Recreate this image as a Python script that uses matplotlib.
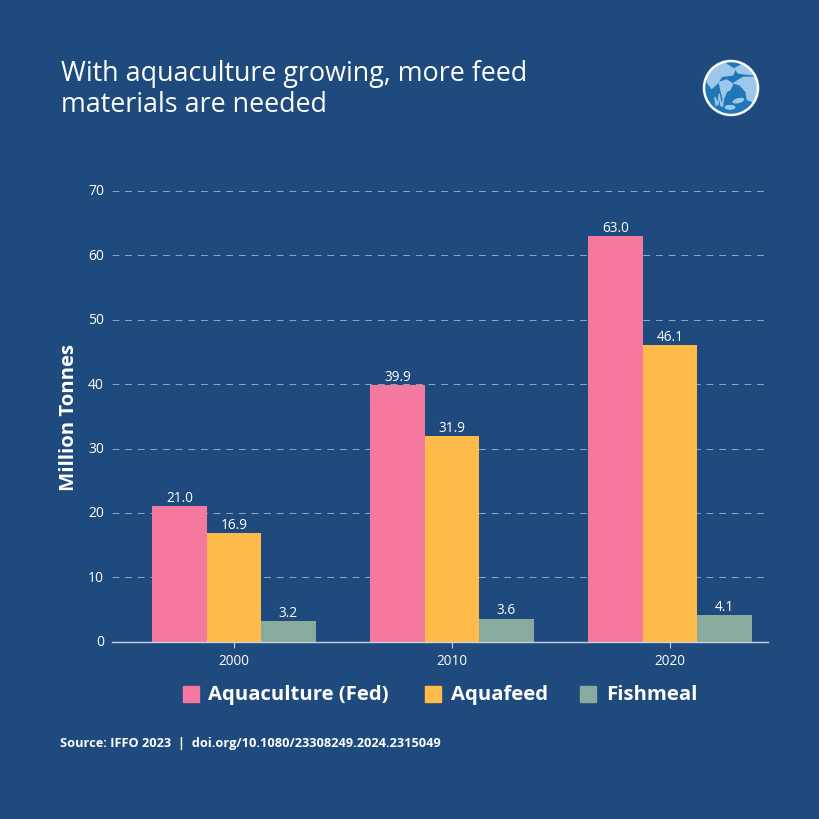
import matplotlib
matplotlib.use("Agg")
import matplotlib.pyplot as plt
from matplotlib.patches import Circle, Polygon, Ellipse, Rectangle
from matplotlib.transforms import ScaledTranslation
import numpy as np

years = ["2000", "2010", "2020"]
aquaculture = [21.0, 39.9, 63.0]
aquafeed = [16.9, 31.9, 46.1]
fishmeal = [3.2, 3.6, 4.1]
series_names = ["Aquaculture (Fed)", "Aquafeed", "Fishmeal"]
yticks = [0, 10, 20, 30, 40, 50, 60, 70]
title = "With aquaculture growing, more feed\nmaterials are needed"
source = "Source: IFFO 2023  |  doi.org/10.1080/23308249.2024.2315049"

BG = "#1e4a7e"
COLORS = ["#f5789f", "#ffbb49", "#88ab9d"]
plt.rcParams["font.family"] = ["Open Sans", "DejaVu Sans"]

W = H = 820
fig = plt.figure(figsize=(8.2, 8.2), dpi=100, facecolor=BG)
ax = fig.add_axes([112.4 / W, 1 - 642.8 / H, (768 - 112) / W, (642 - 191) / H], facecolor=BG)

x = np.arange(len(years))
bw = 0.25
for off, vals, col in zip([-bw, 0, bw], [aquaculture, aquafeed, fishmeal], COLORS):
    bars = ax.bar(x + off, vals, bw, color=col, zorder=3)
    for b, v in zip(bars, vals):
        ax.annotate(f"{v:.1f}", (b.get_x() + b.get_width() / 2, v), xytext=(0, 0.8),
                    textcoords="offset points", ha="center", va="bottom",
                    color="white", fontsize=9.8, zorder=4)

ax.set_xlim(-0.5575, 2.452)
ax.set_ylim(0, 70)
ax.set_xticks(x, years)
ax.set_yticks(yticks)
ax.grid(axis="y", color="#8ea6c2", lw=0.7, dashes=(7, 6), zorder=1)
ax.set_axisbelow(True)
for s in ["top", "right", "left"]:
    ax.spines[s].set_visible(False)
ax.spines["bottom"].set_color("#c9d3de")
ax.spines["bottom"].set_linewidth(1.0)
ax.spines["bottom"].set_zorder(5)
ax.tick_params(axis="x", colors="white", labelsize=9.8, length=4.5, width=0.8, color="#c9d3de", pad=3.8)
ax.tick_params(axis="y", colors="white", labelsize=10, length=0, pad=6)
shift = ScaledTranslation(0, 1.5 / 72, fig.dpi_scale_trans)
for lab in ax.get_yticklabels():
    lab.set_transform(lab.get_transform() + shift)
ax.set_ylabel("Million Tonnes", color="white", fontsize=14.7, fontweight="bold", va="center")
ax.yaxis.set_label_coords((69 - 112) / (768 - 112), 0.5)

lines = title.split("\n")
fig.text(61 / W, 1 - 74.5 / H, lines[0], color="white", fontsize=19.35, va="center", ha="left")
fig.text(61 / W, 1 - 105.5 / H, lines[1], color="white", fontsize=19.35, va="center", ha="left")
fig.text(60 / W, 1 - 744 / H, source, color="white", fontsize=9.2, fontweight="bold", va="center", ha="left")

overlay = fig.add_axes([0, 0, 1, 1], facecolor="none")
overlay.set_xlim(0, W)
overlay.set_ylim(H, 0)
overlay.axis("off")
for sx, tx, name, col in zip([183, 425, 580], [208, 451, 606], series_names, COLORS):
    overlay.add_patch(Rectangle((sx, 686.5), 16, 16, color=col))
    overlay.text(tx, 695, name, color="white", fontsize=14.55, fontweight="bold", va="center", ha="left")


def Z(pts):
    return [(690 + a / 3, 50 + b / 3) for a, b in pts]


LIGHT = "#9cc8ec"
cx, cy = Z([(123, 117)])[0]
r = 27
overlay.add_patch(Circle((cx, cy), r, fc="#2076b6", ec="none"))
clip = Circle((cx, cy), r, transform=overlay.transData)
blobs = [
    [(50, 80), (72, 50), (100, 40), (135, 62), (128, 78), (95, 82), (82, 103), (65, 118), (52, 100)],
    [(135, 58), (160, 45), (195, 65), (198, 78), (165, 75), (145, 72)],
    [(132, 102), (160, 85), (198, 85), (208, 120), (190, 158), (172, 152), (168, 128), (150, 108)],
    [(88, 100), (110, 93), (128, 105), (120, 122), (110, 127), (100, 150), (93, 125)],
]
for pts in blobs:
    p = Polygon(Z(pts), closed=True, fc=LIGHT, ec=LIGHT, lw=1, joinstyle="round")
    overlay.add_patch(p)
    p.set_clip_path(clip)
fx, fy = Z([(120, 175)])[0]
overlay.add_patch(Ellipse((fx, fy), 11, 5, fc=LIGHT, ec="none"))
sx_, sy_ = Z([(145, 155)])[0]
overlay.add_patch(Ellipse((sx_, sy_), 12, 5, fc=LIGHT, ec="none", angle=-15))
weed = Z([(78, 170), (75, 145), (84, 168), (88, 135), (93, 170), (100, 150), (97, 172)])
overlay.plot([a for a, _ in weed], [b for _, b in weed], color=LIGHT, lw=1)
overlay.add_patch(Circle((cx, cy), r, fc="none", ec="white", lw=1.8))

fig.savefig("out.png", dpi=100, facecolor=BG)
